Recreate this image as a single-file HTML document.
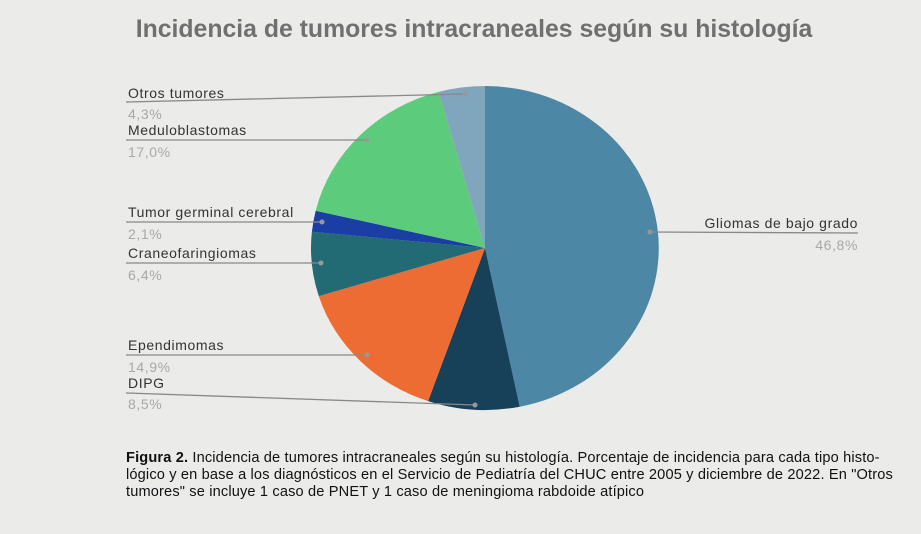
<!DOCTYPE html><html><head><style>body{margin:0;width:921px;height:534px;background:#ebebea;overflow:hidden;font-family:"Liberation Sans",sans-serif}
.cap{position:absolute;left:126px;top:450px;width:790px;font-size:14.6px;line-height:17px;color:#111;white-space:nowrap;letter-spacing:0.15px}</style></head><body>
<svg width="921" height="534" style="position:absolute;left:0;top:0" font-family="Liberation Sans, sans-serif">
<text x="474" y="37" text-anchor="middle" font-size="24.8" font-weight="bold" fill="#707070">Incidencia de tumores intracraneales según su histología</text>
<g stroke="none">
<path d="M485,248 L485,86 A174,162 0 0 1 519.7,406.7Z" fill="#4d87a6"/>
<path d="M485,248 L519.7,406.7 A174,162 0 0 1 428.1,401.1Z" fill="#174159"/>
<path d="M485,248 L428.1,401.1 A174,162 0 0 1 318.8,296.1Z" fill="#ec6c33"/>
<path d="M485,248 L318.8,296.1 A174,162 0 0 1 311.9,231.7Z" fill="#226a74"/>
<path d="M485,248 L311.9,231.7 A174,162 0 0 1 315.7,210.7Z" fill="#1a3ea3"/>
<path d="M485,248 L315.7,210.7 A174,162 0 0 1 438.6,91.9Z" fill="#5ccb7c"/>
<path d="M485,248 L438.6,91.9 A174,162 0 0 1 485,86Z" fill="#7fa6bd"/>
</g>
<g stroke="#888" stroke-width="1.3" fill="none">
<path d="M126,102 L465,94"/><path d="M126,140 L367,140"/><path d="M126,222 L322,222"/><path d="M126,263 L321,263"/><path d="M126,355 L367,355"/><path d="M126,393 L475,405"/><path d="M650,232 L858,233"/>
</g>
<g fill="#999"><circle cx="465" cy="94" r="2.5"/><circle cx="367" cy="140" r="2.5"/><circle cx="322" cy="222" r="2.5"/><circle cx="321" cy="263" r="2.5"/><circle cx="367" cy="355" r="2.5"/><circle cx="475" cy="405" r="2.5"/><circle cx="650" cy="232" r="2.5"/></g>
<g font-size="14" fill="#333" letter-spacing="0.6">
<text x="128" y="98">Otros tumores</text><text x="128" y="135">Meduloblastomas</text><text x="128" y="217">Tumor germinal cerebral</text><text x="128" y="258">Craneofaringiomas</text><text x="128" y="350">Ependimomas</text><text x="128" y="388">DIPG</text><text x="858" y="228" text-anchor="end">Gliomas de bajo grado</text>
</g>
<g font-size="14" fill="#a8a8a8" letter-spacing="0.6">
<text x="128" y="119">4,3%</text><text x="128" y="157">17,0%</text><text x="128" y="239">2,1%</text><text x="128" y="280">6,4%</text><text x="128" y="372">14,9%</text><text x="128" y="409">8,5%</text><text x="858" y="250" text-anchor="end">46,8%</text>
</g>
</svg>
<div class="cap"><b>Figura 2.</b> Incidencia de tumores intracraneales según su histología. Porcentaje de incidencia para cada tipo histo-<br>lógico y en base a los diagnósticos en el Servicio de Pediatría del CHUC entre 2005 y diciembre de 2022. En "Otros<br>tumores" se incluye 1 caso de PNET y 1 caso de meningioma rabdoide atípico</div>
</body></html>
